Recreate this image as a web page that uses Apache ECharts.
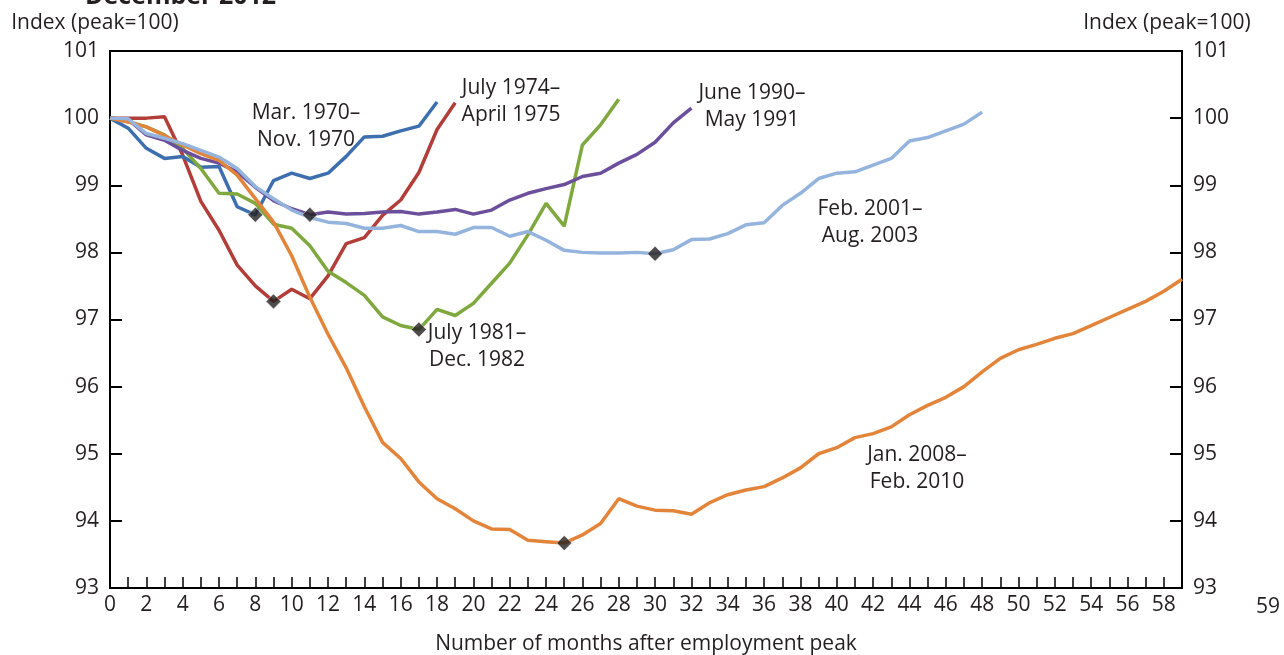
<!DOCTYPE html>
<html>
<head>
<meta charset="utf-8">
<script src="https://cdn.jsdelivr.net/npm/echarts@6/dist/echarts.min.js"></script>
<style>
  html, body { margin: 0; padding: 0; background: #fff; }
  #chart { width: 1284px; height: 655px; }
</style>
</head>
<body>
<div id="chart"></div>
<script>
// index, peak = 100, by months after employment peak
const mar1970 = [100.0, 99.85, 99.55, 99.40, 99.43, 99.27, 99.28, 98.68, 98.56, 99.07, 99.18, 99.10, 99.18, 99.43, 99.72, 99.73, 99.81, 99.88, 100.24]
const jul1974 = [100.0, 100.0, 100.0, 100.02, 99.45, 98.76, 98.33, 97.81, 97.50, 97.27, 97.45, 97.31, 97.65, 98.13, 98.22, 98.55, 98.78, 99.19, 99.83, 100.23]
const jul1981 = [100.0, 99.95, 99.87, 99.75, 99.55, 99.25, 98.88, 98.87, 98.73, 98.42, 98.36, 98.10, 97.72, 97.55, 97.36, 97.04, 96.91, 96.85, 97.15, 97.06, 97.24, 97.54, 97.84, 98.26, 98.73, 98.39, 99.60, 99.90, 100.28]
const jun1990 = [100.0, 99.98, 99.75, 99.67, 99.52, 99.40, 99.33, 99.20, 98.97, 98.77, 98.65, 98.56, 98.60, 98.57, 98.58, 98.60, 98.61, 98.57, 98.60, 98.64, 98.57, 98.63, 98.78, 98.88, 98.95, 99.01, 99.13, 99.18, 99.33, 99.46, 99.64, 99.93, 100.15]
const feb2001 = [100.0, 99.99, 99.77, 99.70, 99.62, 99.52, 99.42, 99.25, 98.98, 98.80, 98.63, 98.52, 98.45, 98.43, 98.36, 98.36, 98.40, 98.31, 98.31, 98.27, 98.37, 98.37, 98.24, 98.31, 98.18, 98.03, 98.00, 97.99, 97.99, 98.00, 97.98, 98.04, 98.19, 98.20, 98.28, 98.41, 98.44, 98.70, 98.88, 99.10, 99.18, 99.20, 99.30, 99.40, 99.66, 99.71, 99.81, 99.91, 100.09]
const jan2008 = [100.0, 99.94, 99.87, 99.74, 99.60, 99.47, 99.37, 99.15, 98.80, 98.45, 97.95, 97.33, 96.78, 96.28, 95.70, 95.17, 94.93, 94.58, 94.33, 94.18, 94.00, 93.88, 93.87, 93.71, 93.69, 93.67, 93.79, 93.96, 94.33, 94.22, 94.16, 94.15, 94.10, 94.27, 94.39, 94.46, 94.51, 94.64, 94.79, 95.00, 95.09, 95.24, 95.30, 95.40, 95.58, 95.72, 95.84, 96.00, 96.22, 96.42, 96.55, 96.63, 96.72, 96.79, 96.91, 97.03, 97.15, 97.27, 97.42, 97.60]

// trough month of each recession (diamond markers)
const troughMonths = { mar1970: 8, jul1974: 9, jul1981: 17, jun1990: 11, feb2001: 30, jan2008: 25 }

const font = "'Open Sans', 'Noto Sans', sans-serif"
const ink = '#231f20'

const lines = [
  { key: 'jul1974', data: jul1974, color: '#b23e3a' },
  { key: 'mar1970', data: mar1970, color: '#3d6fae' },
  { key: 'jul1981', data: jul1981, color: '#7fa83f' },
  { key: 'jun1990', data: jun1990, color: '#6c4f9b' },
  { key: 'jan2008', data: jan2008, color: '#e2843a' },
  { key: 'feb2001', data: feb2001, color: '#94b4dd' }
]

const chart = echarts.init(document.getElementById('chart'))

function yAxisCfg(pos) {
  return {
    type: 'value',
    position: pos,
    min: 93,
    max: 101,
    interval: 1,
    name: 'Index (peak=100)',
    nameLocation: 'end',
    nameGap: 17,
    nameTextStyle: {
      color: ink, fontFamily: font, fontSize: 21,
      align: 'center',
      padding: [0, 30, 0, 0]
    },
    axisLine: { show: true, lineStyle: { color: '#000', width: 2 } },
    axisTick: { show: true, inside: true, length: 12, lineStyle: { color: '#000', width: 2 } },
    axisLabel: { color: ink, fontFamily: font, fontSize: 21, margin: 11 },
    splitLine: { show: false }
  }
}

chart.setOption({
  animation: false,
  grid: {
    left: 110, right: 102, top: 51, bottom: 67,
    outerBoundsMode: 'none',
    containLabel: false,
    show: true, borderColor: '#000', borderWidth: 2
  },
  xAxis: {
    type: 'value',
    min: 0,
    max: 59,
    interval: 1,
    name: 'Number of months after employment peak',
    nameLocation: 'middle',
    nameGap: 46,
    nameTextStyle: { color: ink, fontFamily: font, fontSize: 21 },
    axisLine: { lineStyle: { color: '#000', width: 2 } },
    axisTick: { inside: true, length: 11, lineStyle: { color: '#000', width: 1.5 } },
    axisLabel: {
      color: ink, fontFamily: font, fontSize: 21, margin: 7,
      formatter: v => (v % 2 === 0 ? String(v) : '')
    },
    splitLine: { show: false }
  },
  yAxis: [yAxisCfg('left'), yAxisCfg('right')],
  series: [
    ...lines.map(l => ({
      type: 'line',
      data: l.data.map((v, i) => [i, v]),
      showSymbol: false,
      silent: true,
      lineStyle: { color: l.color, width: 3.5 },
      itemStyle: { color: l.color }
    })),
    {
      type: 'scatter',
      symbol: 'diamond',
      symbolSize: 15,
      silent: true,
      z: 5,
      itemStyle: { color: ink, borderColor: '#ffffff', borderWidth: 0.6 },
      data: lines.map(l => [troughMonths[l.key], l.data[troughMonths[l.key]]])
    }
  ],
  graphic: [
    {
      type: 'text', x: 85, y: 9,
      style: { text: 'December 2012', fill: ink, font: 'bold 25px ' + font, verticalAlign: 'bottom' }
    },
    {
      type: 'text', x: 1268, y: 607,
      style: { text: '59', fill: ink, font: '21px ' + font, align: 'center', verticalAlign: 'middle' }
    },
    ...[
      ['Mar. 1970–\nNov. 1970', 306, 127],
      ['July 1974–\nApril 1975', 511, 102],
      ['June 1990–\nMay 1991', 752, 107],
      ['Feb. 2001–\nAug. 2003', 870, 223],
      ['July 1981–\nDec. 1982', 477, 347],
      ['Jan. 2008–\nFeb. 2010', 917, 469]
    ].map(([t, x, y]) => ({
      type: 'text', x: x, y: y, z: 10,
      style: {
        text: t, fill: ink, font: '21px ' + font,
        align: 'center', verticalAlign: 'middle', lineHeight: 27
      }
    }))
  ]
})
</script>
</body>
</html>
